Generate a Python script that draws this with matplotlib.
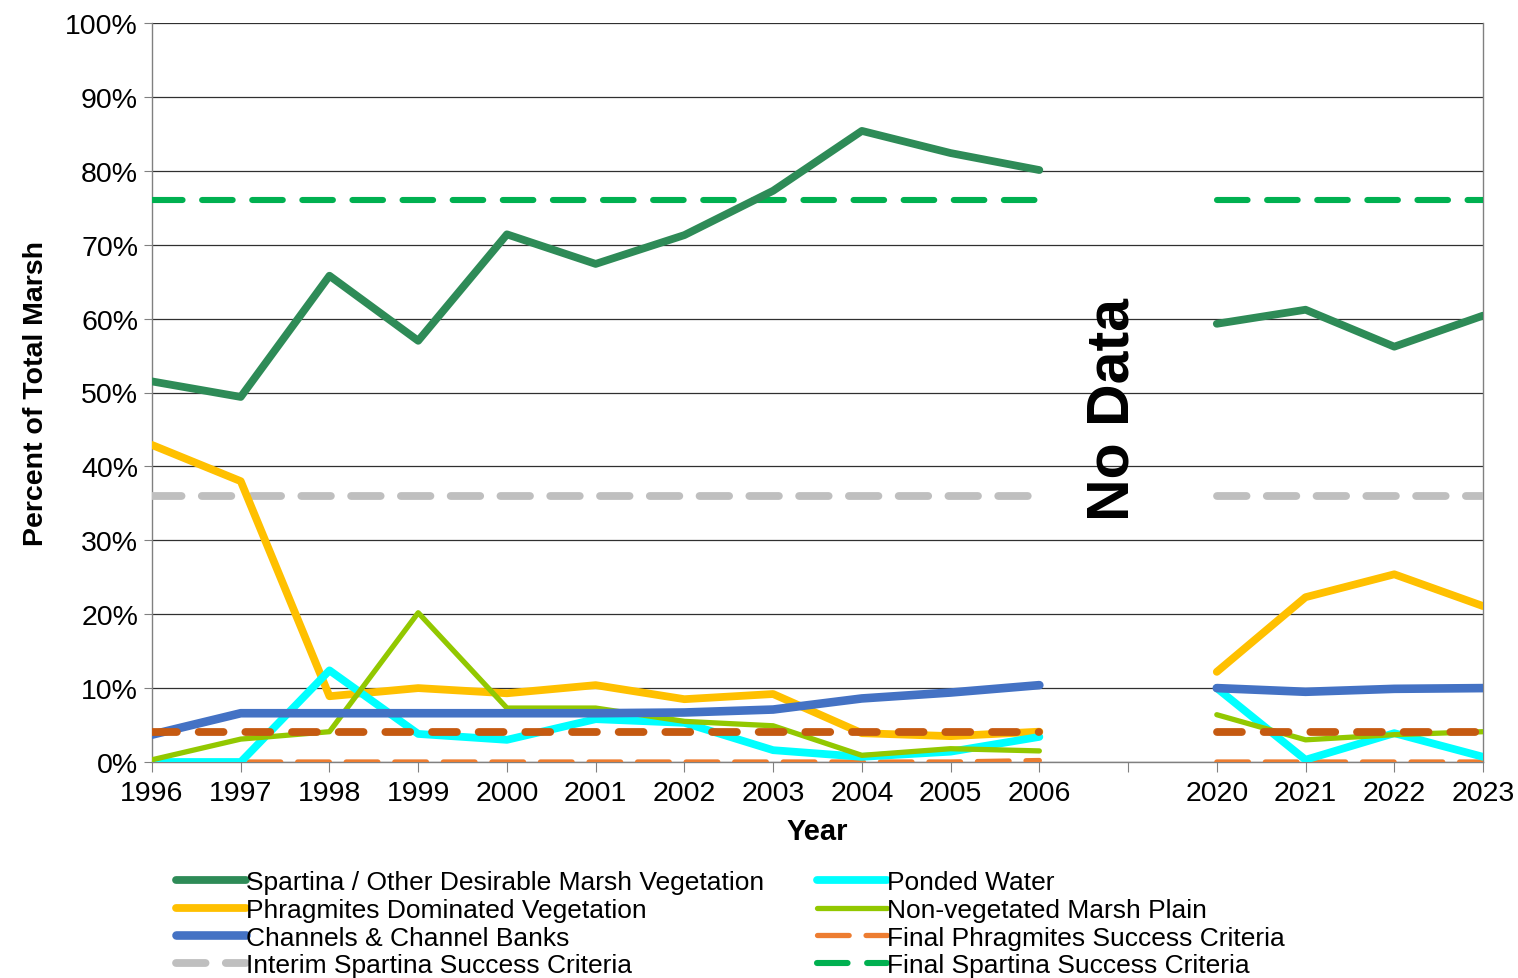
import numpy as np
import matplotlib
matplotlib.use("Agg")
import matplotlib.pyplot as plt
from matplotlib.ticker import PercentFormatter

plt.rcParams['font.family'] = ['Liberation Sans', 'DejaVu Sans']

years = ['1996', '1997', '1998', '1999', '2000', '2001', '2002', '2003', '2004',
         '2005', '2006', '', '2020', '2021', '2022', '2023']
nan = np.nan
spartina = [51.5, 49.4, 65.8, 57.0, 71.4, 67.4, 71.3, 77.3, 85.4, 82.4, 80.1, nan,
            59.3, 61.2, 56.2, 60.4]
phrag = [42.9, 38.0, 8.9, 10.0, 9.3, 10.4, 8.5, 9.2, 3.9, 3.5, 4.1, nan,
         12.2, 22.3, 25.4, 21.1]
channels = [3.7, 6.6, 6.6, 6.6, 6.6, 6.6, 6.7, 7.1, 8.6, 9.4, 10.4, nan,
            10.0, 9.5, 9.9, 10.0]
ponded = [0.0, 0.0, 12.4, 3.8, 3.0, 5.8, 5.3, 1.6, 0.7, 1.4, 3.4, nan,
          10.0, 0.3, 3.9, 0.7]
nonveg = [0.3, 3.1, 4.1, 20.2, 7.3, 7.3, 5.5, 4.9, 0.9, 1.8, 1.5, nan,
          6.4, 3.0, 3.7, 4.1]
final_phrag = [0, 0, 0, 0, 0, 0, 0, 0, 0, 0, 0.2, nan, 0, 0, 0, 0]
phrag_interim = [4, 4, 4, 4, 4, 4, 4, 4, 4, 4, 4, nan, 4, 4, 4, 4]
interim_spartina = [36, 36, 36, 36, 36, 36, 36, 36, 36, 36, 36, nan, 36, 36, 36, 36]
final_spartina = [76, 76, 76, 76, 76, 76, 76, 76, 76, 76, 76, nan, 76, 76, 76, 76]

x = np.arange(len(years))

fig = plt.figure(figsize=(15.18, 9.79), dpi=100)
ax = fig.add_axes([152/1518, 1-763/979, (1483-152)/1518, (763-24)/979])

lw = 5.6
# criteria lines
ax.plot(x, final_phrag, color='#ED7D31', lw=3.8, dashes=(6, 3.2), dash_capstyle='round',
        label='Final Phragmites Success Criteria', zorder=3)
ax.plot(x, interim_spartina, color='#BFBFBF', lw=lw, dashes=(3.8, 2.6), dash_capstyle='round',
        label='Interim Spartina Success Criteria', zorder=3)
ax.plot(x, final_spartina, color='#00B050', lw=lw - 1.2, dashes=(5, 3.2), dash_capstyle='round',
        label='Final Spartina Success Criteria', zorder=3)

ax.plot(x, spartina, color='#2E8B57', lw=lw, solid_capstyle='round',
        label='Spartina / Other Desirable Marsh Vegetation', zorder=4)
ax.plot(x, phrag, color='#FFC000', lw=lw, solid_capstyle='round',
        label='Phragmites Dominated Vegetation', zorder=4)
ax.plot(x, ponded, color='#00FFFF', lw=lw, solid_capstyle='round',
        label='Ponded Water', zorder=4)
ax.plot(x, nonveg, color='#92C800', lw=3.8, solid_capstyle='round',
        label='Non-vegetated Marsh Plain', zorder=4)
ax.plot(x, channels, color='#4472C4', lw=lw + 0.6, solid_capstyle='round',
        label='Channels & Channel Banks', zorder=4)
ax.plot(x, phrag_interim, color='#C55A11', lw=lw, dashes=(3.2, 2.8), dash_capstyle='round',
        zorder=5)

ax.set_xlim(0, 15)
ax.set_ylim(0, 100)
ax.set_yticks(np.arange(0, 101, 10))
ax.yaxis.set_major_formatter(PercentFormatter(decimals=0))
ax.set_xticks(x)
ax.set_xticklabels(years)
ax.grid(axis='y', color='#303030', lw=0.9)
ax.set_axisbelow(True)
ax.spines['top'].set_visible(False)
for s in ['left', 'right', 'bottom']:
    ax.spines[s].set_color('#808080')
    ax.spines[s].set_linewidth(1.0)
ax.tick_params(axis='x', direction='out', length=7, color='#808080', labelsize=20.5, pad=6)
ax.tick_params(axis='y', direction='out', length=6, color='#808080', labelsize=20.5, pad=4)

ax.set_xlabel('Year', fontsize=21, fontweight='bold', labelpad=8)
ax.set_ylabel('Percent of Total Marsh', fontsize=20.5, fontweight='bold', labelpad=12)

ax.text(10.83, 47.8, 'No Data', rotation=90, fontsize=42.5, fontweight='bold',
        ha='center', va='center')

handles, labels = ax.get_legend_handles_labels()
order = ['Spartina / Other Desirable Marsh Vegetation', 'Phragmites Dominated Vegetation',
         'Channels & Channel Banks', 'Interim Spartina Success Criteria',
         'Ponded Water', 'Non-vegetated Marsh Plain',
         'Final Phragmites Success Criteria', 'Final Spartina Success Criteria']
hmap = dict(zip(labels, handles))
leg = fig.legend([hmap[l] for l in order], order, ncol=2, loc='upper left',
                 bbox_to_anchor=(163/1518, 1-858/979), frameon=False, fontsize=19,
                 handlelength=2.65, handletextpad=0.0, labelspacing=0.14,
                 columnspacing=2.0, borderpad=0)

fig.savefig('out.png', dpi=100)
